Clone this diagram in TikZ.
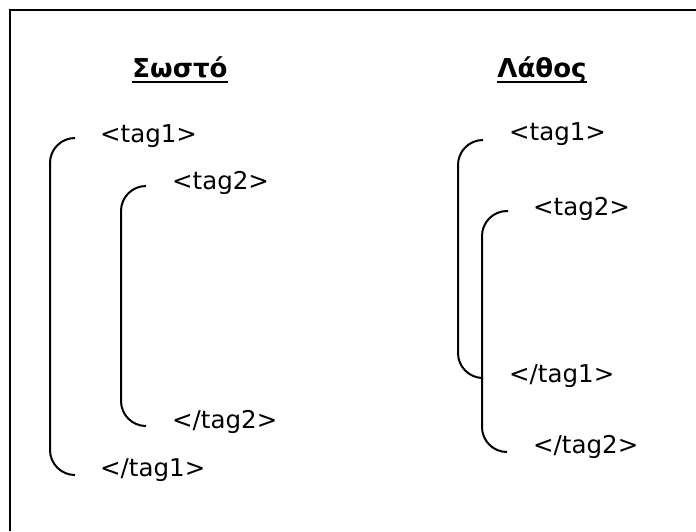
\documentclass[tikz,border=0pt]{standalone}
\usepackage{fontspec}
\setmainfont{DejaVu Sans}
\begin{document}
\begin{tikzpicture}[x=1pt,y=-1pt,
  tagtext/.style={anchor=base west,inner sep=0pt,font=\fontsize{24.5}{29}\selectfont},
  headtext/.style={anchor=base,inner sep=0pt,font=\fontsize{26}{30}\selectfont\bfseries},
  underlined/.style={line width=2pt},
  bracket/.style={line width=2pt,rounded corners=25pt},
  frameline/.style={line width=2pt}]
\useasboundingbox (0,0) rectangle (696,531);
% frame (only the top and left edges fall inside the page)
\coordinate (fbl) at (10,531);
\coordinate (ftl) at (10,10);
\coordinate (ftr) at (696,10);
\draw[frameline] (fbl) -- (ftl) -- (ftr);

% headings
\node[headtext] (hok) at (180,77) {Σωστό};
\node[headtext] (hbad) at (542,77) {Λάθος};
\draw[underlined] ([yshift=-5]hok.base west) -- ([yshift=-5]hok.base east);
\draw[underlined] ([yshift=-5]hbad.base west) -- ([yshift=-5]hbad.base east);

% correct nesting
\node[tagtext] (a1) at (100,142) {<tag1>};
\node[tagtext] (a2) at (172,189) {<tag2>};
\node[tagtext] (a3) at (172,428) {</tag2>};
\node[tagtext] (a4) at (100,476) {</tag1>};
\coordinate (a1t) at (75,138);
\coordinate (a4t) at (75,475);
\coordinate (a2t) at (146,186);
\coordinate (a3t) at (146,426);
\draw[bracket] (a1t) -- (a1t -| 50,0) -- (a4t -| 50,0) -- (a4t);
\draw[bracket] (a2t) -- (a2t -| 121,0) -- (a3t -| 121,0) -- (a3t);

% wrong nesting
\node[tagtext] (b1) at (509,140) {<tag1>};
\node[tagtext] (b2) at (533,215) {<tag2>};
\node[tagtext] (b3) at (509,382) {</tag1>};
\node[tagtext] (b4) at (533,453) {</tag2>};
\coordinate (b1t) at (483,140);
\coordinate (b3t) at (482,378);
\coordinate (b2t) at (508,211);
\coordinate (b4t) at (507,452);
\draw[bracket] (b1t) -- (b1t -| 458,0) -- (b3t -| 458,0) -- (b3t);
\draw[bracket] (b2t) -- (b2t -| 482,0) -- (b4t -| 482,0) -- (b4t);
\end{tikzpicture}
\end{document}
